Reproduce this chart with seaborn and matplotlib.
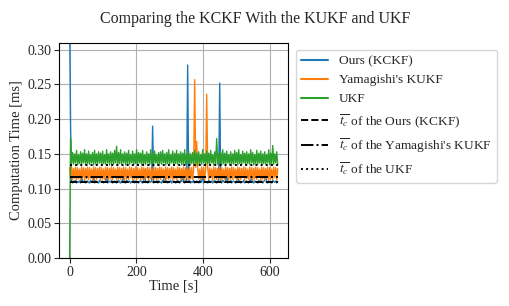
import matplotlib
matplotlib.use("Agg")
import matplotlib.pyplot as plt
import seaborn as sns
import numpy as np

# Computation times in microseconds, one sample every 3 s
kckf_us = [345, 190, 110, 108, 111, 109, 112, 108, 110, 109,
           111, 108, 118, 110, 109, 112, 108, 110, 111, 109,
           108, 112, 110, 109, 126, 108, 111, 110, 109, 108,
           112, 110, 109, 111, 108, 110, 109, 121, 108, 111,
           110, 109, 112, 108, 110, 111, 109, 108, 110, 112,
           109, 108, 111, 110, 124, 109, 108, 112, 110, 109,
           111, 108, 110, 109, 112, 108, 111, 110, 109, 108,
           110, 112, 109, 108, 111, 127, 110, 109, 108, 112,
           110, 109, 111, 190, 108, 110, 109, 112, 108, 111,
           110, 109, 108, 112, 110, 125, 109, 111, 108, 110,
           109, 112, 108, 110, 111, 109, 108, 110, 112, 109,
           108, 111, 110, 122, 109, 108, 112, 110, 278, 109,
           111, 108, 110, 109, 112, 108, 110, 111, 109, 108,
           112, 110, 109, 126, 108, 111, 110, 109, 108, 112,
           110, 109, 111, 108, 110, 112, 109, 108, 111, 110,
           252, 109, 108, 112, 110, 109, 111, 123, 108, 110,
           109, 112, 108, 110, 111, 109, 108, 110, 127, 109,
           111, 108, 110, 109, 112, 108, 110, 111, 109, 108,
           112, 110, 124, 109, 108, 111, 110, 109, 108, 112,
           110, 109, 111, 108, 110, 112, 126, 109, 108, 111,
           110, 109, 108, 112, 110, 109, 111, 108, 110]

kukf_us = [130, 114, 131, 113, 129, 115, 131, 112, 130, 114,
           128, 113, 131, 116, 130, 112, 129, 114, 131, 113,
           130, 115, 128, 112, 131, 114, 130, 113, 129, 116,
           131, 112, 130, 114, 128, 113, 131, 115, 130, 112,
           129, 114, 131, 113, 130, 116, 128, 112, 131, 114,
           130, 113, 129, 115, 131, 112, 130, 114, 128, 113,
           131, 116, 130, 112, 129, 114, 131, 113, 130, 115,
           128, 112, 131, 114, 130, 113, 129, 116, 131, 112,
           130, 114, 128, 113, 131, 115, 130, 112, 129, 114,
           131, 113, 130, 116, 128, 112, 131, 114, 130, 113,
           129, 115, 131, 112, 130, 114, 128, 113, 131, 116,
           130, 112, 129, 114, 131, 113, 130, 115, 128, 112,
           131, 114, 130, 113, 129, 257, 131, 168, 130, 114,
           128, 113, 131, 115, 130, 112, 129, 236, 131, 113,
           130, 116, 128, 112, 131, 114, 130, 113, 129, 115,
           131, 112, 130, 114, 128, 113, 131, 116, 130, 112,
           129, 114, 131, 113, 130, 115, 128, 112, 131, 114,
           130, 113, 129, 116, 131, 112, 130, 114, 128, 113,
           131, 115, 130, 112, 129, 114, 131, 113, 130, 116,
           128, 112, 131, 114, 130, 113, 129, 115, 131, 112,
           130, 114, 128, 113, 131, 116, 130, 112, 129]

ukf_us = [0, 172, 136, 152, 135, 150, 137, 155, 134, 149,
          136, 153, 135, 151, 137, 156, 134, 150, 136, 154,
          135, 149, 137, 152, 134, 155, 136, 150, 135, 153,
          137, 151, 134, 154, 136, 149, 135, 156, 137, 150,
          134, 153, 136, 151, 135, 155, 137, 161, 134, 152,
          136, 156, 135, 150, 137, 153, 134, 151, 136, 155,
          135, 149, 137, 154, 134, 150, 136, 156, 135, 152,
          137, 151, 134, 155, 136, 149, 135, 153, 137, 150,
          134, 156, 136, 151, 135, 154, 137, 149, 134, 152,
          136, 153, 135, 155, 137, 150, 134, 152, 136, 156,
          135, 149, 137, 154, 134, 151, 136, 155, 135, 150,
          137, 153, 134, 151, 136, 156, 135, 149, 137, 154,
          134, 150, 136, 152, 135, 155, 137, 151, 134, 153,
          136, 149, 135, 156, 137, 150, 134, 154, 136, 151,
          135, 155, 137, 149, 134, 153, 136, 172, 135, 150,
          137, 152, 134, 156, 136, 151, 135, 154, 137, 149,
          134, 153, 136, 150, 135, 155, 137, 152, 134, 156,
          136, 149, 135, 154, 137, 151, 134, 153, 136, 150,
          135, 156, 137, 152, 134, 149, 136, 155, 135, 151,
          137, 154, 134, 150, 136, 153, 135, 149, 137, 156,
          134, 151, 136, 162, 135, 150, 137, 153, 134]

# Mean computation times shown as horizontal lines [ms]
mean_kckf = 0.110
mean_kukf = 0.116
mean_ukf = 0.134

dt = 3.0
t = np.arange(len(kckf_us)) * dt
kckf = np.array(kckf_us) / 1000
kukf = np.array(kukf_us) / 1000
ukf = np.array(ukf_us) / 1000

sns.set_style("ticks")
plt.rcParams["font.family"] = ["Liberation Serif", "DejaVu Serif"]
plt.rcParams["mathtext.fontset"] = "stix"

fig = plt.figure(figsize=(5.1, 3.06), dpi=100)
ax = fig.add_axes([0.116, 0.157, 0.449, 0.703])

pal = sns.color_palette("tab10")
sns.lineplot(x=t, y=kckf, ax=ax, color=pal[0], lw=1.0, label="Ours (KCKF)")
sns.lineplot(x=t, y=kukf, ax=ax, color=pal[1], lw=1.0, label="Yamagishi's KUKF")
sns.lineplot(x=t, y=ukf, ax=ax, color=pal[2], lw=1.0, label="UKF")
ax.plot([t[0], t[-1]], [mean_kckf, mean_kckf], color="k", ls="--", lw=1.4,
        label=r"$\overline{t_c}$ of the Ours (KCKF)")
ax.plot([t[0], t[-1]], [mean_kukf, mean_kukf], color="k", ls="-.", lw=1.4,
        label=r"$\overline{t_c}$ of the Yamagishi's KUKF")
ax.plot([t[0], t[-1]], [mean_ukf, mean_ukf], color="k", ls=":", lw=1.4,
        label=r"$\overline{t_c}$ of the UKF")

ax.set_ylim(0, 0.31)
ax.set_yticks(np.arange(0, 0.31, 0.05))
ax.set_xticks([0, 200, 400, 600])
ax.grid(True, color="#b0b0b0", lw=0.8)
ax.tick_params(labelsize=10, pad=2)
ax.set_xlabel("Time [s]", fontsize=10.5, labelpad=1)
ax.set_ylabel("Computation Time [ms]", fontsize=10.5, labelpad=3)
for s in ax.spines.values():
    s.set_color("black")

fig.suptitle("Comparing the KCKF With the KUKF and UKF", fontsize=11.5, y=0.965)
leg = ax.legend(loc="upper left", bbox_to_anchor=(1.005, 1.0), fontsize=9.6,
                frameon=True, edgecolor="#cccccc")
for h in leg.get_lines()[:3]:
    h.set_linewidth(1.5)

fig.savefig("out.png", dpi=100)
